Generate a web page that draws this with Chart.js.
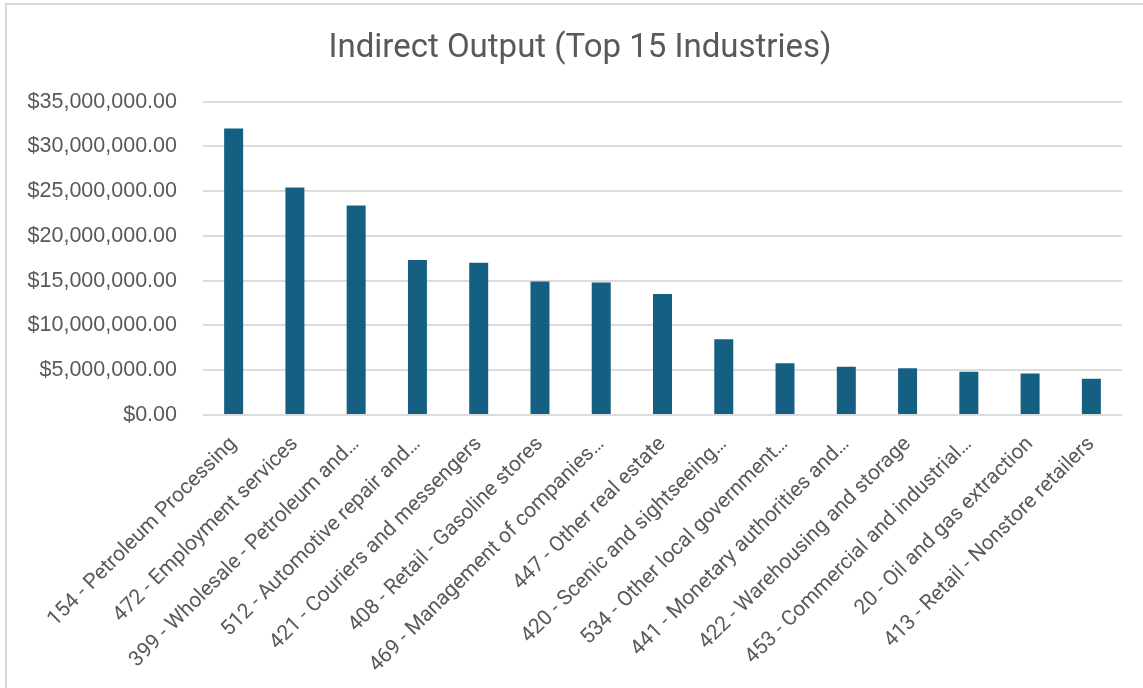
<!DOCTYPE html>
<html>
<head>
<meta charset="utf-8">
<script src="https://cdn.jsdelivr.net/npm/chart.js@4.4.0/dist/chart.umd.min.js"></script>
<style>
  html, body { margin: 0; padding: 0; background: #fff; }
  #wrap { position: relative; width: 1143px; height: 688px; overflow: hidden; }
  #frame { position: absolute; left: 5px; top: 3px; width: 2000px; height: 2000px;
           border-left: 2px solid #d9d9d9; border-top: 2px solid #d9d9d9; pointer-events: none; }
  canvas { position: absolute; left: 0; top: 0; }
</style>
</head>
<body>
<div id="wrap">
  <canvas id="grafica" width="1143" height="688"></canvas>
  <div id="frame"></div>
</div>
<script>
// industrias (etiquetas tal como salen en el eje, ya recortadas)
var industrias = [
  "154 - Petroleum Processing",
  "472 - Employment services",
  "399 - Wholesale - Petroleum and…",
  "512 - Automotive repair and…",
  "421 - Couriers and messengers",
  "408 - Retail - Gasoline stores",
  "469 - Management of companies…",
  "447 - Other real estate",
  "420 - Scenic and sightseeing…",
  "534 - Other local government…",
  "441 - Monetary authorities and…",
  "422 - Warehousing and storage",
  "453 - Commercial and industrial…",
  "20 - Oil and gas extraction",
  "413 - Retail - Nonstore retailers"
];
// produccion indirecta en dolares
var produccion = [
  32000000, 25400000, 23400000, 17300000, 17000000,
  14900000, 14800000, 13500000, 8460000, 5790000,
  5380000, 5230000, 4820000, 4630000, 4060000
];
var ejeMax = 35000000;
var ejePaso = 5000000;

function dinero(v){
  return "$" + Number(v).toLocaleString("en-US", {minimumFractionDigits: 2, maximumFractionDigits: 2});
}

// el titulo va un poco a la derecha, como en excel
var moverTitulo = {
  id: "moverTitulo",
  afterLayout: function(chart){
    if(chart.titleBlock){ chart.titleBlock.left = 38; }
  }
};

var ctx = document.getElementById("grafica").getContext("2d");
var chart = new Chart(ctx, {
  type: "bar",
  data: {
    labels: industrias,
    datasets: [{
      label: "Indirect Output",
      data: produccion,
      backgroundColor: "#156082",
      borderWidth: 0,
      categoryPercentage: 1,
      barPercentage: 0.31
    }]
  },
  plugins: [moverTitulo],
  options: {
    responsive: false,
    animation: false,
    layout: { padding: { left: 0, right: 21, top: 0, bottom: 0 } },
    plugins: {
      legend: { display: false },
      tooltip: { enabled: false },
      title: {
        display: true,
        text: "Indirect Output (Top 15 Industries)",
        color: "#595959",
        font: { family: "Roboto", size: 33, weight: "normal" },
        padding: { top: 29, bottom: 33 }
      }
    },
    scales: {
      x: {
        grid: { display: false },
        border: { display: false },
        ticks: {
          color: "#595959",
          font: { family: "Roboto", size: 21 },
          minRotation: 45,
          maxRotation: 45,
          autoSkip: false,
          padding: 9
        },
        afterFit: function(scale){ scale.height = 688 - 415; }
      },
      y: {
        min: 0,
        max: ejeMax,
        border: { display: false },
        grid: { color: "#dcdcdc", lineWidth: 2, drawTicks: false },
        ticks: {
          stepSize: ejePaso,
          color: "#595959",
          font: { family: "Liberation Sans", size: 21.5 },
          padding: 26,
          callback: function(v){ return dinero(v); }
        },
        afterFit: function(scale){ scale.width = 203; }
      }
    }
  }
});
</script>
</body>
</html>
